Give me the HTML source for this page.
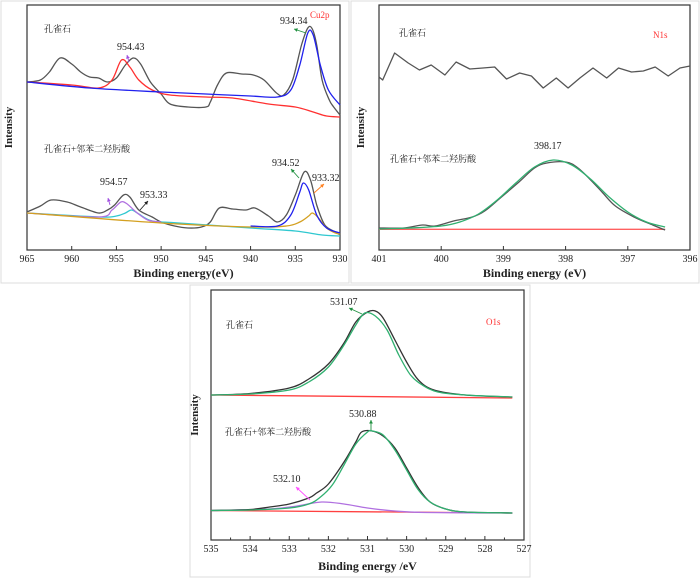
<!DOCTYPE html>
<html><head><meta charset="utf-8"><style>
html,body{margin:0;padding:0;background:#fff;}
svg{display:block;font-family:"Liberation Serif","Noto Serif CJK SC",serif;}
</style></head><body>
<svg id="fig" width="700" height="578" viewBox="0 0 700 578" xmlns="http://www.w3.org/2000/svg"></svg>
<script>
// ---------- Panel 1 data (Cu2p) ----------
const cuTicks = [965,960,955,950,945,940,935,930];
const cuTopRawE = [965,963.5,962.5,961.3,960,959,958,957,956,955,954,953.1,952.3,951.2,950,949,947,945,944.5,943.7,942.7,941,939.7,938.5,937.1,936.3,935.3,934.3,933.6,933.1,932.6,932,931.2,930.7,930];
const cuTopRawI = [168,170,178,192,186,178,173,172,168,172,185,192,186,168,156,146,143,143,148,165,177,176,175,170,157,155,170,205,222,221,205,170,150,143,135];
const cuTopRedE = [965,960,957,955.5,954.43,953.5,952.5,951,949,945,942,938,935,933,931.5,930];
const cuTopRedI = [168,165,162,170,190,183,170,160,155,153,152,146,143,138,134,133];
const cuTopBlueE = [965,958,950,945,940,937,935.5,934.5,933.6,933,932.2,931.3,930];
const cuTopBlueI = [168,162,158,156,154,153,160,185,217,215,185,160,145];
const cuBotRawE = [965,963.5,962.3,960.5,959,957,956,955.2,954.2,953.5,952.5,951,950,948.5,947,945.5,944.5,943.5,942,940.5,939.5,938,937,936,935,934,933.3,932.6,931.7,930.5,930];
const cuBotRawI = [38,44,50,48,43,37,40,45,55,53,40,33,28,24,22,23,28,42,41,40,42,34,28,35,55,78,70,45,25,18,15];
const cuCyanE = [965,957,955,954,953.3,952.5,951,948,940,935,932,930];
const cuCyanI = [37,33,34,37,40,36,29,27,22,19,15,14];
const cuPurpleE = [965,957,955.5,954.5,953.8,952.8,951.5,950];
const cuPurpleI = [37,33,40,48,46,38,30,28];
const cuBlueE = [940,937,935.5,934.5,934.1,933.5,932.6,931.5,930];
const cuBlueI = [24,24,35,58,67,60,35,22,17];
const cuOrangeE = [965,950,940,936,934.5,933.5,933.1,932.5,931.5,930.5,930];
const cuOrangeI = [37,27,23,24,28,34,37,33,22,17,16];
// ---------- Panel 2 data (N1s) ----------
const nTicks = [401,400,399,398,397,396];
const nTopE = [401.0,400.94,400.75,400.53,400.35,400.16,399.94,399.76,399.54,399.33,399.14,398.95,398.74,398.55,398.36,398.15,397.96,397.77,397.56,397.34,397.15,396.94,396.75,396.56,396.35,396.16,396.0];
const nTopI = [173,170,197,187,180,185,175,188,181,182,183,171,177,174,162,172,162,172,182,172,182,178,179,183,174,182,184];
const nFitE = [401,400.5,400,399.7,399.4,399.1,398.8,398.5,398.2,397.9,397.6,397.3,397,396.7,396.4];
const nFitI = [21,22,24,28,36,50,67,83,90,85,71,53,38,28,23];
const nRawE = [401,400.6,400.3,400.1,399.8,399.5,399.3,399.05,398.75,398.5,398.3,398.0,397.8,397.55,397.4,397.2,396.9,396.6,396.4];
const nRawI = [22,22,25,24,29,33,39,52,68,82,87,88,82,67,57,44,33,25,20];
const nBaseE = [401,396.4];
const nBaseI = [20.7,20.7];
// ---------- Panel 3 data (O1s) ----------
const oTicks = [535,534,533,532,531,530,529,528,527];
const oTopBaseE = [535,527.3];
const oTopBaseI = [145,142];
const oTopFitE = [535,534,533,532.5,532,531.6,531.3,531.07,530.8,530.5,530.2,529.9,529.6,529.2,528.5,527.3];
const oTopFitI = [145,146,150,158,173,195,215,227,224,210,185,165,155,148,145,143];
const oTopRawE = [535,534,533,532.5,532,531.6,531.3,531.0,530.8,530.6,530.3,530,529.7,529.3,528.5,527.3];
const oTopRawI = [145,146.5,152,161,176,197,218,228,229,222,200,178,160,150,145,143];
const oBotBaseE = [535,527.3];
const oBotBaseI = [29.5,27];
const oBotFitE = [535,534,533,532.5,532.2,531.9,531.6,531.3,531.0,530.88,530.6,530.3,530,529.7,529.4,529,528.5,527.3];
const oBotFitI = [29.5,30,32,36,43,55,75,96,108,109,105,90,70,50,38,31,28,27];
const oBotRawE = [535,534,533.5,533,532.5,532.3,532,531.6,531.3,531.15,530.88,530.6,530.3,530,529.7,529.4,529,528.5,527.3];
const oBotRawI = [29.5,30.5,33,36,42,47,56,78,98,108,109,104,92,72,52,38,31,28,27];
const oPurpleE = [535,533.5,532.8,532.17,531.6,531,530.3,529.5,527.3];
const oPurpleI = [29.5,31,34,38,36,32,29,27.5,27];

const svg = document.getElementById('fig');
const NS = 'http://www.w3.org/2000/svg';
function mk(tag, attrs, parent){const e=document.createElementNS(NS,tag);for(const k in attrs)e.setAttribute(k,attrs[k]);(parent||svg).appendChild(e);return e;}
function smoothPath(P){
  let d='M'+P[0][0].toFixed(1)+','+P[0][1].toFixed(1);
  for(let i=0;i<P.length-1;i++){
    const p0=P[Math.max(i-1,0)],p1=P[i],p2=P[i+1],p3=P[Math.min(i+2,P.length-1)];
    const c1x=p1[0]+(p2[0]-p0[0])/6,c1y=p1[1]+(p2[1]-p0[1])/6;
    const c2x=p2[0]-(p3[0]-p1[0])/6,c2y=p2[1]-(p3[1]-p1[1])/6;
    d+=` C${c1x.toFixed(1)},${c1y.toFixed(1)} ${c2x.toFixed(1)},${c2y.toFixed(1)} ${p2[0].toFixed(1)},${p2[1].toFixed(1)}`;
  }
  return d;
}

function panel(p){
  const g = mk('g',{});
  
  
  const fr = mk('rect',{x:p.frame[0],y:p.frame[1],width:p.frame[2],height:p.frame[3],fill:'none',stroke:'#dcdcdc','stroke-width':1},g);
  
  
  const X = e => p.x0 + (p.e0 - e)/(p.e0 - p.e1)*(p.x1 - p.x0);
  const Y = i => p.y1 - i*(p.y1 - p.y0)/p.range;
  const box = mk('rect',{x:p.x0,y:p.y0,width:p.x1-p.x0,height:p.y1-p.y0,fill:'none',stroke:'#333','stroke-width':1.2},g);
  
  
  p.ticks.forEach(t=>{
    const tl = mk('line',{x1:X(t),x2:X(t),y1:p.y1,y2:p.y1-4,stroke:'#333','stroke-width':1},g);
    
    
    const tx = mk('text',{x:X(t),y:p.y1+12,'font-size':10,'text-anchor':'middle',fill:'#222'},g);
    tx.textContent = t;
    
    
  });
  if(p.minor){
    for(let k=0;k<p.ticks.length-1;k++){
      const m=(p.ticks[k]+p.ticks[k+1])/2;
      const ml = mk('line',{x1:X(m),x2:X(m),y1:p.y1,y2:p.y1-2.5,stroke:'#333','stroke-width':1},g);
      
      
    }
  }
  const xl = mk('text',{x:(p.x0+p.x1)/2,y:p.xlabelY,'font-size':12,'font-weight':'bold','text-anchor':'middle',fill:'#222'},g);
  xl.textContent = p.xlabel;
  
  
  const yl = mk('text',{x:0,y:0,'font-size':11,'font-weight':'bold','text-anchor':'middle',fill:'#222',transform:`translate(${p.ylabelX},${(p.y0+p.y1)/2}) rotate(-90)`},g);
  yl.textContent = 'Intensity';
  
  
  p.series.forEach(s=>{
    const P = s.E.map((e,k)=>[X(e),Y(s.I[k])]);
    let el;
    if(s.jag){
      el = mk('polyline',{points:P.map(q=>q[0].toFixed(1)+','+q[1].toFixed(1)).join(' '),fill:'none',stroke:s.c,'stroke-width':s.w||1.3,'stroke-linejoin':'round'},g);
    } else {
      el = mk('path',{d:smoothPath(P),fill:'none',stroke:s.c,'stroke-width':s.w||1.3},g);
    }
    
    
  });
  p.texts.forEach(t=>{
    const tx = mk('text',{x:t[0],y:t[1],'font-size':t[3]||10,fill:t[4]||'#222'},g);
    tx.textContent = t[2];
    
    
  });
  (p.arrows||[]).forEach(a=>{
    const ln = mk('line',{x1:a[0],y1:a[1],x2:a[2],y2:a[3],stroke:a[4],'stroke-width':0.9},g);
    
    
    const ang=Math.atan2(a[3]-a[1],a[2]-a[0]);
    const hx=a[2],hy=a[3],L=4;
    const pth = mk('polygon',{points:`${hx},${hy} ${hx-L*Math.cos(ang-0.5)},${hy-L*Math.sin(ang-0.5)} ${hx-L*Math.cos(ang+0.5)},${hy-L*Math.sin(ang+0.5)}`,fill:a[4]},g);
    
    
  });
}

panel({name:'cu2p-panel',frame:[1,1,348,282],x0:27,x1:340,y0:5,y1:250,e0:965,e1:930,range:245,ticks:cuTicks,
  xlabel:'Binding energy(eV)',xlabelY:277,ylabelX:12,
  series:[
    {E:cuTopRawE,I:cuTopRawI,c:'#555',n:'cu-top-raw'},
    {E:cuTopRedE,I:cuTopRedI,c:'#ff3030',n:'cu-top-fit-954'},
    {E:cuTopBlueE,I:cuTopBlueI,c:'#2020ee',n:'cu-top-fit-934'},
    {E:cuBotRawE,I:cuBotRawI,c:'#555',n:'cu-bottom-raw'},
    {E:cuCyanE,I:cuCyanI,c:'#30c8d0',n:'cu-bottom-fit-953'},
    {E:cuPurpleE,I:cuPurpleI,c:'#b070e0',n:'cu-bottom-fit-954'},
    {E:cuOrangeE,I:cuOrangeI,c:'#d4a020',n:'cu-bottom-fit-933'},
    {E:cuBlueE,I:cuBlueI,c:'#2020ee',n:'cu-bottom-fit-934'}],
  texts:[[44,32,'孔雀石',9],[44,152,'孔雀石+邻苯二羟肟酸',9],[117,50,'954.43'],[280,24,'934.34'],
    [310,18,'Cu2p',9,'#ff3030','series-label'],[100,185,'954.57'],[140,198,'953.33'],[272,166,'934.52'],[312,181,'933.32']],
  arrows:[[129,62,127,55,'#a050e0'],[306,33,294,29,'#209040'],[110,205,108,198,'#a050e0'],[140,210,148,201,'#222'],
    [299,178,291,169,'#209040'],[314,193,324,184,'#ff8020']]
});
panel({name:'n1s-panel',frame:[351,1,348,282],x0:379,x1:690,y0:5,y1:250,e0:401,e1:396,range:245,ticks:nTicks,
  xlabel:'Binding energy (eV)',xlabelY:277,ylabelX:364,
  series:[
    {E:nTopE,I:nTopI,c:'#555',n:'n-top-raw',jag:true},
    {E:nBaseE,I:nBaseI,c:'#ff6060',n:'n-baseline',jag:true},
    {E:nRawE,I:nRawI,c:'#555',n:'n-bottom-raw'},
    {E:nFitE,I:nFitI,c:'#30b070',n:'n-bottom-fit'}],
  texts:[[399,36,'孔雀石',9],[653,38,'N1s',9,'#ff3030','series-label'],[390,162,'孔雀石+邻苯二羟肟酸',9],[534,149,'398.17']]
});
panel({name:'o1s-panel',frame:[190,285,340,292],x0:211,x1:524,y0:290,y1:540,e0:535,e1:527,range:250,ticks:oTicks,minor:true,
  xlabel:'Binding energy /eV',xlabelY:570,ylabelX:198,
  series:[
    {E:oTopBaseE,I:oTopBaseI,c:'#ff4040',n:'o-top-baseline',jag:true},
    {E:oTopRawE,I:oTopRawI,c:'#333',n:'o-top-raw'},
    {E:oTopFitE,I:oTopFitI,c:'#30b070',n:'o-top-fit'},
    {E:oBotBaseE,I:oBotBaseI,c:'#ff4040',n:'o-bottom-baseline',jag:true},
    {E:oPurpleE,I:oPurpleI,c:'#b070e0',n:'o-bottom-fit-532'},
    {E:oBotRawE,I:oBotRawI,c:'#333',n:'o-bottom-raw'},
    {E:oBotFitE,I:oBotFitI,c:'#30b070',n:'o-bottom-fit-530'}],
  texts:[[330,305,'531.07'],[226,328,'孔雀石',9],[486,325,'O1s',9,'#ff3030','series-label'],[349,417,'530.88'],
    [225,435,'孔雀石+邻苯二羟肟酸',9],[273,482,'532.10']],
  arrows:[[362,314,349,308,'#209040'],[371,430,371,420,'#209040'],[310,500,296,487,'#ff50ff']]
});
</script>
</body></html>
